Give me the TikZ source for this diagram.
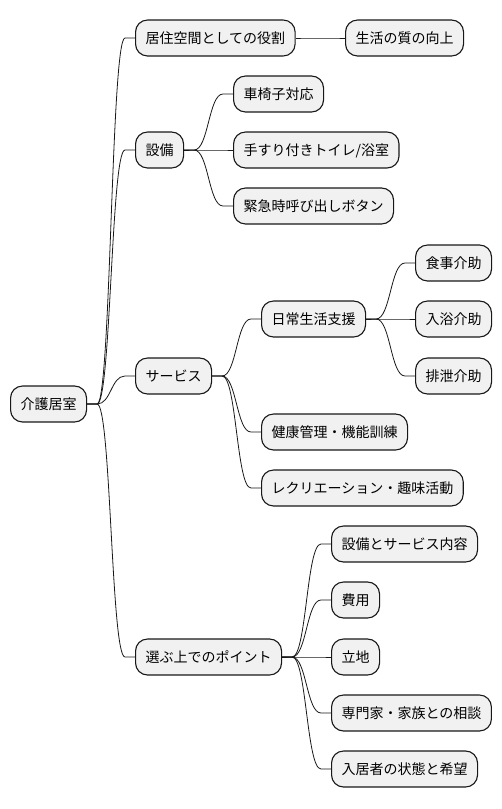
\documentclass[tikz,border=0pt]{standalone}
\usepackage{fontspec}
\setmainfont{Noto Sans CJK JP}
\usetikzlibrary{calc}
\definecolor{boxfill}{HTML}{F1F1F1}
\definecolor{boxline}{HTML}{181818}
\tikzset{
	topic/.style={draw=boxline, fill=boxfill, line width=1.1pt, rounded corners=12pt,
		anchor=west, minimum height=36pt, inner xsep=10pt, inner ysep=0pt,
		text height=12.3pt, text depth=1.7pt, font=\fontsize{14}{16}\selectfont},
	branch/.style={draw=boxline, line width=0.8pt}
}
% parent -> child, short straight ends and an s-curve between
\newcommand{\connect}[2]{%
	\coordinate (m) at ($(#1.east)!0.5!(#2.west)$);
	\draw[branch] (#1.east) -- ++(10,0) .. controls (m |- #1.east) and (m |- #2.west) .. ([xshift=-10pt]#2.west) -- (#2.west);}

\begin{document}
\begin{tikzpicture}[x=1pt, y=-1pt]
		\useasboundingbox (0,0) rectangle (502,809);
		
		\node[topic] (root) at (10,404) {介護居室};
		
		\node[topic] (role) at (135,38) {居住空間としての役割};
		\node[topic] (qol) at (345,38) {生活の質の向上};
		
		\node[topic] (equip) at (135,150) {設備};
		\node[topic] (wheel) at (233,94) {車椅子対応};
		\node[topic] (rail) at (233,150) {手すり付きトイレ/浴室};
		\node[topic] (call) at (233,206) {緊急時呼び出しボタン};
		
		\node[topic] (service) at (135,376) {サービス};
		\node[topic] (daily) at (261,319) {日常生活支援};
		\node[topic] (meal) at (415,263) {食事介助};
		\node[topic] (bath) at (415,319) {入浴介助};
		\node[topic] (toilet) at (415,376) {排泄介助};
		\node[topic] (health) at (261,432) {健康管理・機能訓練};
		\node[topic] (recre) at (261,488) {レクリエーション・趣味活動};
		
		\node[topic] (choose) at (135,657) {選ぶ上でのポイント};
		\node[topic] (content) at (331,544) {設備とサービス内容};
		\node[topic] (cost) at (331,600) {費用};
		\node[topic] (place) at (331,657) {立地};
		\node[topic] (consult) at (331,713) {専門家・家族との相談};
		\node[topic] (state) at (331,769) {入居者の状態と希望};
		
		\connect{root}{role}
		\connect{root}{equip}
		\connect{root}{service}
		\connect{root}{choose}
		
		\connect{role}{qol}
		
		\connect{equip}{wheel}
		\connect{equip}{rail}
		\connect{equip}{call}
		
		\connect{service}{daily}
		\connect{service}{health}
		\connect{service}{recre}
		\connect{daily}{meal}
		\connect{daily}{bath}
		\connect{daily}{toilet}
		
		\connect{choose}{content}
		\connect{choose}{cost}
		\connect{choose}{place}
		\connect{choose}{consult}
		\connect{choose}{state}
	\end{tikzpicture}
\end{document}
